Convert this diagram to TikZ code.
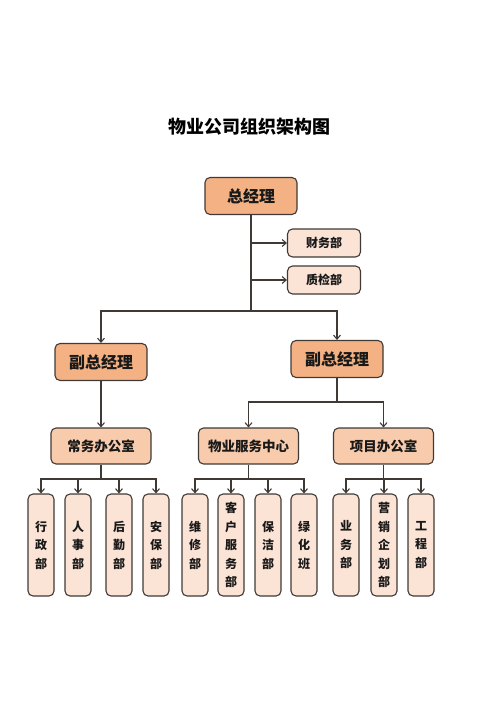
\documentclass[tikz,border=0pt]{standalone}
\usepackage{fontspec}
\usepackage{tikz}
\usetikzlibrary{arrows.meta}
\usetikzlibrary{positioning}
\newfontfamily\cjk{Noto Sans CJK SC}
\definecolor{mdark}{HTML}{F4B183}
\definecolor{mmid}{HTML}{F8CBAD}
\definecolor{mlight}{HTML}{FBE3D5}
\definecolor{mline}{HTML}{3F3A36}
\tikzset{box/.style = {draw=mline, line width=1.1pt, rounded corners=5pt,
                       inner sep=0pt, align=center, text=black!90, font=\cjk\bfseries},
         headbox/.style = {box, fill=mdark, minimum width=92pt, minimum height=37pt,
                           font=\cjk\bfseries\fontsize{16}{18}\selectfont},
         officebox/.style = {box, fill=mmid, minimum width=100pt, minimum height=36pt,
                             font=\cjk\bfseries\fontsize{13.5}{16}\selectfont},
         smallbox/.style = {box, fill=mlight, minimum width=73pt, minimum height=28pt,
                            font=\cjk\bfseries\fontsize{12}{14}\selectfont},
         leafbox/.style = {box, fill=mlight, minimum width=26pt, minimum height=102pt,
                           font=\cjk\bfseries\fontsize{12}{18.5}\selectfont},
         link/.style = {draw=mline, line width=1.1pt},
         ->/.style = {link, -{Straight Barb[length=4pt, width=7pt]}}}

\begin{document}
\begin{tikzpicture}[x=1pt, y=-1pt]
    \useasboundingbox (0, 0) rectangle (500, 706);

    \node [font=\cjk\bfseries\fontsize{18}{20}\selectfont] (title) at (249, 127) {物业公司组织架构图};

    \node [headbox] (gm) at (251, 196) {总经理};
    \node [smallbox] (cw) at (324, 243) {财务部};
    \node [smallbox] (zj) at (324, 280) {质检部};

    \node [headbox] (vpl) at (101, 362) {副总经理};
    \node [headbox] (vpr) at (337, 359) {副总经理};

    \node [officebox] (cwb) at (101, 446) {常务办公室};
    \node [officebox] (wyfw) at (248.5, 446) {物业服务中心};
    \node [officebox] (xmb) at (383.5, 446) {项目办公室};

    \node [leafbox] (xz) at (41, 545) {行\\政\\部};
    \node [leafbox] (rs) at (78, 545) {人\\事\\部};
    \node [leafbox] (hq) at (119, 545) {后\\勤\\部};
    \node [leafbox] (ab) at (156, 545) {安\\保\\部};
    \node [leafbox] (wx) at (195, 545) {维\\修\\部};
    \node [leafbox] (kf) at (231, 545) {客\\户\\服\\务\\部};
    \node [leafbox] (bj) at (268, 545) {保\\洁\\部};
    \node [leafbox] (lh) at (304, 545) {绿\\化\\班};
    \node [leafbox] (yw) at (346, 545) {业\\务\\部};
    \node [leafbox] (yx) at (384, 545) {营\\销\\企\\划\\部};
    \node [leafbox] (gc) at (421, 545) {工\\程\\部};

    % top level
    \coordinate (jgm) at (251, 311);
    \draw [->] (gm.south) |- (cw.west);
    \draw [->] (gm.south) |- (zj.west);
    \draw [link] (gm.south) -- (jgm);
    \draw [->] (jgm) -| (vpl.north);
    \draw [->] (jgm) -| (vpr.north);

    % deputies
    \draw [->] (vpl.south) -- (cwb.north);
    \coordinate (jvp) at (337, 402);
    \draw [link] (vpr.south) -- (jvp);
    \draw [->] (jvp) -| (wyfw.north);
    \draw [->] (jvp) -| (xmb.north);

    % departments
    \coordinate (j1) at (101, 479);
    \coordinate (j2) at (248.5, 479);
    \coordinate (j3) at (383.5, 479);
    \draw [link] (cwb.south) -- (j1);
    \draw [link] (wyfw.south) -- (j2);
    \draw [link] (xmb.south) -- (j3);
    \foreach \leaf in {xz, rs, hq, ab}
        \draw [->] (j1) -| (\leaf.north);
    \foreach \leaf in {wx, kf, bj, lh}
        \draw [->] (j2) -| (\leaf.north);
    \foreach \leaf in {yw, yx, gc}
        \draw [->] (j3) -| (\leaf.north);
\end{tikzpicture}
\end{document}
